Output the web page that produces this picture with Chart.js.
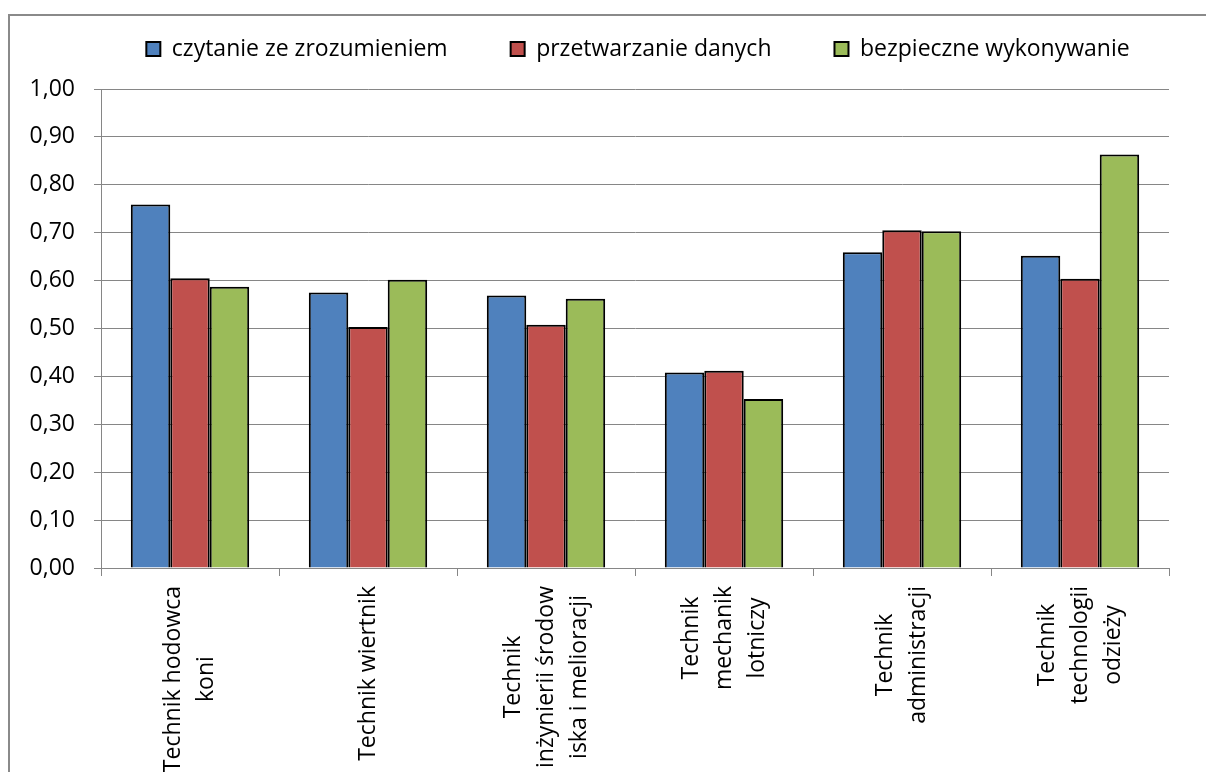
<!DOCTYPE html>
<html lang="pl">
<head>
  <meta charset="UTF-8">
  <title>Wyniki - technicy</title>
  <script src="https://cdn.jsdelivr.net/npm/chart.js"></script>
  <style>
    body {
      margin: 0;
      background: #fff;
      overflow: hidden;
    }
    .wrap {
      position: relative;
      width: 1206px;
      height: 772px;
    }
    .frame {
      position: absolute;
      left: 8px;
      top: 14px;
      width: 1300px;
      height: 900px;
      border: 2px solid #8a8a8a;
      pointer-events: none;
    }
  </style>
</head>
<body>

<script>
  // dane z wykresu
  const zawody = [
    ['Technik hodowca', 'koni'],
    ['Technik wiertnik'],
    ['Technik', 'inżynierii środow', 'iska i melioracji'],
    ['Technik', 'mechanik', 'lotniczy'],
    ['Technik', 'administracji'],
    ['Technik', 'technologii', 'odzieży']
  ];
  const czytanie = [0.759, 0.575, 0.569, 0.408, 0.659, 0.652];
  const przetwarzanie = [0.605, 0.503, 0.508, 0.412, 0.705, 0.604];
  const bezpieczne = [0.587, 0.602, 0.562, 0.353, 0.703, 0.863];
  const yTickLabels = ['0,00', '0,10', '0,20', '0,30', '0,40', '0,50', '0,60', '0,70', '0,80', '0,90', '1,00'];
</script>

<div class="wrap">
  <canvas id="wykres" width="1206" height="772"></canvas>
  <div class="frame"></div>
</div>

<script>
  const FONT = '"Open Sans", sans-serif';
  const GRID = '#868686';

  // podpisy osi X: obrócone, linie wyśrodkowane jak w Excelu
  const xLabelsPlugin = {
    id: 'xLabels',
    afterDraw(chart) {
      const ctx = chart.ctx;
      const xs = chart.scales.x;
      ctx.save();
      ctx.font = '23px ' + FONT;
      ctx.fillStyle = '#000';
      ctx.textAlign = 'center';
      ctx.textBaseline = 'middle';
      zawody.forEach((lines, i) => {
        const x0 = xs.getPixelForTick(i);
        const maxW = Math.max(...lines.map(l => ctx.measureText(l).width));
        const cy = xs.top + 18 + maxW / 2;
        lines.forEach((line, j) => {
          const cx = x0 + (j - (lines.length - 1) / 2) * 33;
          ctx.save();
          ctx.translate(cx, cy);
          ctx.rotate(-Math.PI / 2);
          ctx.fillText(line, 0, 0);
          ctx.restore();
        });
      });
      ctx.restore();
    }
  };

  // legenda: środek w x=638, trochę wyżej; wykres zaczyna się niżej
  const legendPos = {
    id: 'legendPos',
    afterLayout(chart) {
      chart.legend.left = 47;
      chart.legend.right = 1229;
      chart.legend.top -= 18.5;
    }
  };

  const serie = [
    { label: 'czytanie ze zrozumieniem', data: czytanie, kolor: '#4F81BD' },
    { label: 'przetwarzanie danych', data: przetwarzanie, kolor: '#C0504D' },
    { label: 'bezpieczne wykonywanie', data: bezpieczne, kolor: '#9BBB59' }
  ];

  new Chart(document.getElementById('wykres'), {
    type: 'bar',
    data: {
      labels: zawody.map(z => z.join(' ')),
      datasets: serie.map(s => ({
        label: s.label,
        data: s.data,
        backgroundColor: s.kolor,
        borderColor: '#000',
        borderWidth: 2,
        categoryPercentage: 0.665,
        barPercentage: 1
      }))
    },
    options: {
      responsive: false,
      animation: false,
      layout: { padding: { left: 0, right: 37, top: 16, bottom: 0 } },
      plugins: {
        tooltip: { enabled: false },
        legend: {
          position: 'top',
          labels: {
            color: '#000',
            font: { family: FONT, size: 23 },
            boxWidth: 14,
            boxHeight: 14,
            padding: 40,
            generateLabels(chart) {
              const items = Chart.defaults.plugins.legend.labels.generateLabels(chart);
              items.forEach((it, i) => {
                it.lineWidth = 2;
                if (i < items.length - 1) it.text += '\u2002\u2002';
              });
              return items;
            }
          }
        }
      },
      scales: {
        x: {
          grid: {
            offset: true,
            drawOnChartArea: false,
            color: GRID,
            tickLength: 8
          },
          border: { color: GRID },
          ticks: { display: false },
          afterFit(s) { s.height = 204; }
        },
        y: {
          min: 0,
          max: 1,
          grid: { color: GRID, tickLength: 7 },
          border: { color: GRID },
          ticks: {
            stepSize: 0.1,
            color: '#000',
            font: { family: FONT, size: 23 },
            padding: 19,
            callback: (v, i) => yTickLabels[i]
          },
          afterFit(s) { s.width = 101; }
        }
      }
    },
    plugins: [xLabelsPlugin, legendPos]
  });
</script>

</body>
</html>
